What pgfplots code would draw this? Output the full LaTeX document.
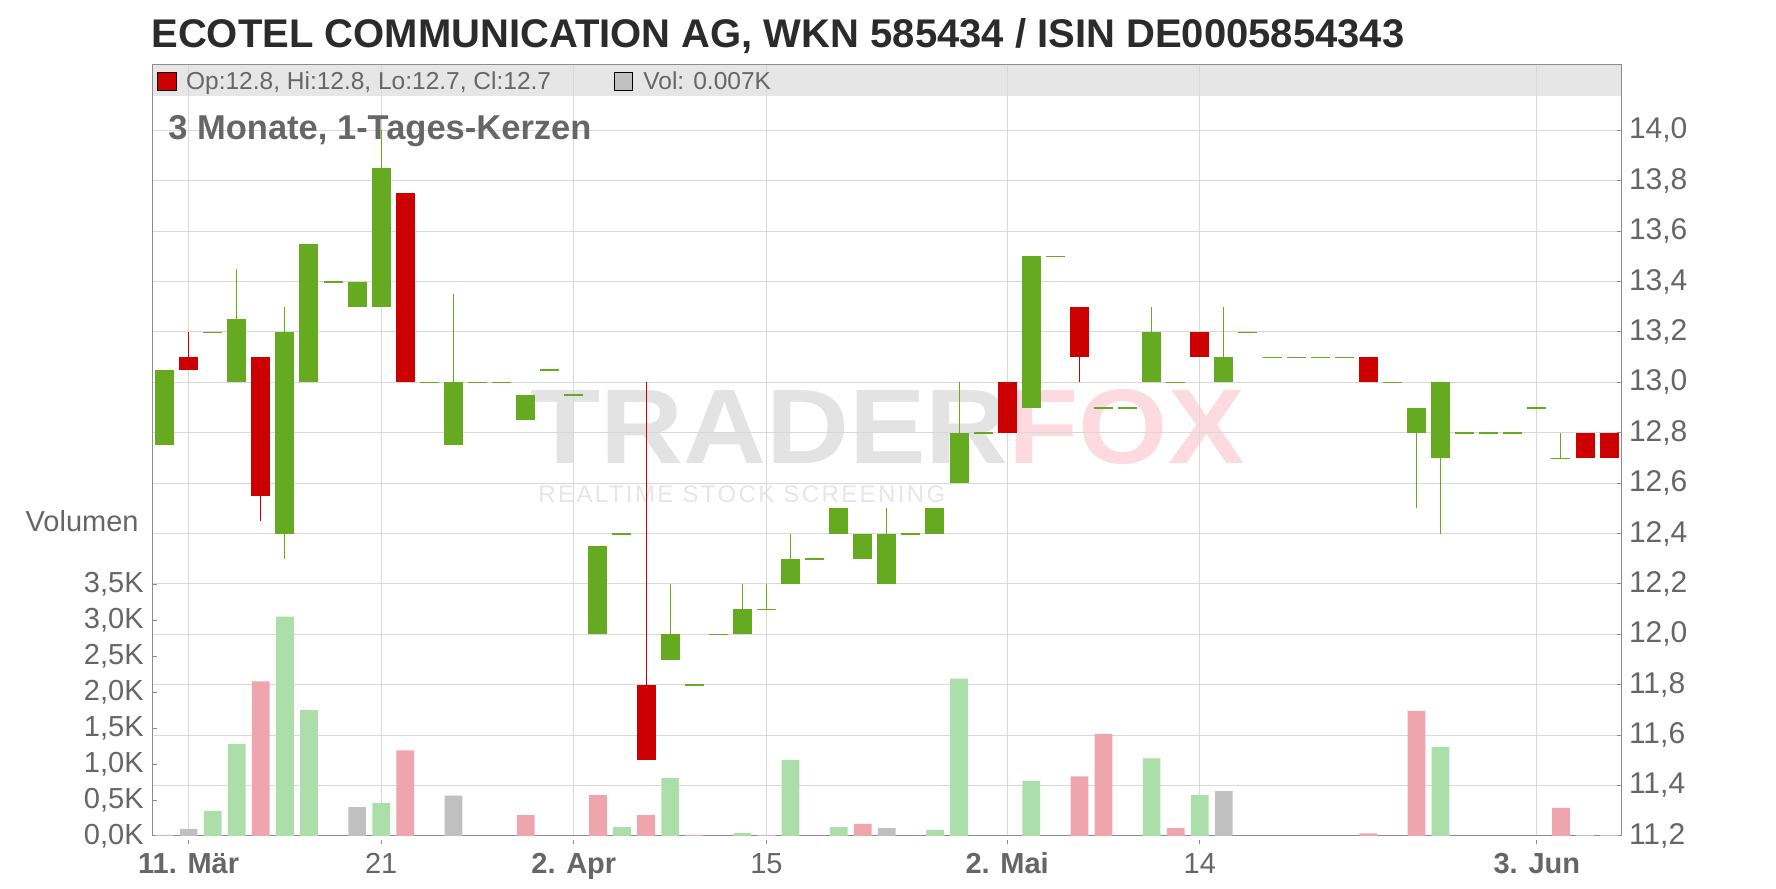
\documentclass[border=0pt]{standalone}
\usepackage{pgfplots}
\pgfplotsset{compat=1.18}
\usepackage{pgfplotstable}
\usepackage{graphicx}
\usepackage{fontspec}
\setmainfont{Liberation Sans}
\newfontfamily\wmfont[LetterSpace=10]{Liberation Sans}

\definecolor{cgreen}{HTML}{66AA22}
\definecolor{cred}{HTML}{CC0000}
\definecolor{vgreen}{HTML}{ACDEAA}
\definecolor{vred}{HTML}{EEA5AE}
\definecolor{vgray}{HTML}{C0C0C0}
\definecolor{gridgray}{HTML}{D9D9D9}
\definecolor{axisgray}{HTML}{8C8C8C}
\definecolor{labgray}{HTML}{666666}
\definecolor{titlegray}{HTML}{2B2B2B}
\definecolor{legbg}{HTML}{E6E6E6}
\definecolor{wmgray}{HTML}{E3E3E3}
\definecolor{wmpink}{HTML}{FDDAE0}
\definecolor{wmsub}{HTML}{E6E6E6}

\pgfplotsset{candle/.style={only marks, mark=*, mark size=0pt, mark options={draw=none, fill=none}, forget plot}}

% index open high low close  (close >= open)
\pgfplotstableread{
i o h l c
0 12.75 13.05 12.75 13.05
2 13.2 13.2 13.2 13.2
3 13.0 13.45 13.0 13.25
5 12.4 13.3 12.3 13.2
6 13.0 13.55 13.0 13.55
7 13.4 13.4 13.4 13.4
8 13.3 13.4 13.3 13.4
9 13.3 14.0 13.3 13.85
11 13.0 13.0 13.0 13.0
12 12.75 13.35 12.75 13.0
13 13.0 13.0 13.0 13.0
14 13.0 13.0 13.0 13.0
15 12.85 12.95 12.85 12.95
16 13.05 13.05 13.05 13.05
17 12.95 12.95 12.95 12.95
18 12.0 12.35 12.0 12.35
19 12.4 12.4 12.4 12.4
21 11.9 12.2 11.9 12.0
22 11.8 11.8 11.8 11.8
23 12.0 12.0 12.0 12.0
24 12.0 12.2 12.0 12.1
25 12.1 12.2 12.1 12.1
26 12.2 12.4 12.2 12.3
27 12.3 12.3 12.3 12.3
28 12.4 12.5 12.4 12.5
29 12.3 12.4 12.3 12.4
30 12.2 12.5 12.2 12.4
31 12.4 12.4 12.4 12.4
32 12.4 12.5 12.4 12.5
33 12.6 13.0 12.6 12.8
34 12.8 12.8 12.8 12.8
36 12.9 13.5 12.9 13.5
37 13.5 13.5 13.5 13.5
39 12.9 12.9 12.9 12.9
40 12.9 12.9 12.9 12.9
41 13.0 13.3 13.0 13.2
42 13.0 13.0 13.0 13.0
44 13.0 13.3 13.0 13.1
45 13.2 13.2 13.2 13.2
46 13.1 13.1 13.1 13.1
47 13.1 13.1 13.1 13.1
48 13.1 13.1 13.1 13.1
49 13.1 13.1 13.1 13.1
51 13.0 13.0 13.0 13.0
52 12.8 12.9 12.5 12.9
53 12.7 13.0 12.4 13.0
54 12.8 12.8 12.8 12.8
55 12.8 12.8 12.8 12.8
56 12.8 12.8 12.8 12.8
57 12.9 12.9 12.9 12.9
58 12.7 12.8 12.7 12.7
}\greencandles

% close < open
\pgfplotstableread{
i o h l c
1 13.1 13.2 13.05 13.05
4 13.1 13.1 12.45 12.55
10 13.75 13.75 13.0 13.0
20 11.8 13.0 11.5 11.5
35 13.0 13.0 12.8 12.8
38 13.3 13.3 13.0 13.1
43 13.2 13.2 13.1 13.1
50 13.1 13.1 13.0 13.0
59 12.8 12.8 12.7 12.7
60 12.8 12.8 12.7 12.7
}\redcandles

% volume in thousands
\pgfplotstableread{
i v
2 0.35
3 1.28
5 3.05
6 1.75
9 0.46
19 0.125
21 0.81
24 0.04
26 1.06
28 0.125
32 0.083
33 2.19
36 0.765
41 1.08
43 0.57
53 1.24
}\volgreen

\pgfplotstableread{
i v
4 2.15
10 1.19
15 0.29
18 0.57
20 0.29
22 0.014
29 0.167
38 0.83
39 1.42
42 0.11
50 0.037
52 1.74
58 0.39
}\volred

\pgfplotstableread{
i v
0 0.015
1 0.10
8 0.40
12 0.56
25 0.015
30 0.11
44 0.625
59 0.012
60 0.012
}\volgray

\begin{document}
\begin{tikzpicture}[x=1pt,y=1pt]
\useasboundingbox (0,0) rectangle (888,444);
% legend bar background
\fill[legbg] (76.25,396.15) rectangle (810.25,411.25);
% watermark
\node[anchor=base west, inner sep=0pt] at (265,212) {\scalebox{1.083}[1]{\fontsize{53}{53}\selectfont\bfseries\textcolor{wmgray}{TRADER}\textcolor{wmpink}{FOX}}};
\node[anchor=base west, inner sep=0pt] at (269,192.65) {\wmfont\fontsize{12}{12}\selectfont\textcolor{wmsub}{REALTIME STOCK SCREENING}};

\begin{axis}[
  at={(76.25pt,26pt)}, anchor=south west, scale only axis,
  width=734.3pt, height=385.5pt,
  xmin=-0.5, xmax=60.5, ymin=11.2, ymax=14.2595,
  axis line style={draw=axisgray, line width=0.5pt},
  xtick={1,9,17,25,35,43,57}, xticklabels=\empty,
  ytick={11.2,11.4,11.6,11.8,12.0,12.2,12.4,12.6,12.8,13.0,13.2,13.4,13.6,13.8,14.0},
  grid=major, major grid style={draw=gridgray, line width=0.5pt},
  ytick pos=right, yticklabel pos=right,
  tick align=inside, major tick length=2pt,
  xtick style={draw=none},
  ytick style={draw=axisgray, line width=0.5pt},
  yticklabel style={anchor=west, inner sep=0pt, xshift=3.75pt, font=\fontsize{15}{15}\selectfont, text=labgray},
  /pgf/number format/fixed, /pgf/number format/fixed zerofill,
  /pgf/number format/precision=1, /pgf/number format/use comma,
  /pgf/number format/assume math mode=true,
]
% wicks
\addplot[candle,
  error bars/.cd, y dir=plus, y explicit, error mark=none,
  error bar style={draw=cgreen, line width=0.5pt}]
  table[x=i, y=l, y error plus expr=\thisrow{h}-\thisrow{l}] {\greencandles};
\addplot[candle,
  error bars/.cd, y dir=plus, y explicit, error mark=none,
  error bar style={draw=cred, line width=0.5pt}]
  table[x=i, y=l, y error plus expr=\thisrow{h}-\thisrow{l}] {\redcandles};
% bodies
\addplot[candle,
  error bars/.cd, y dir=both, y explicit, error mark=none,
  error bar style={draw=cgreen, line width=9.5pt}]
  table[x=i, y expr=(\thisrow{o}+\thisrow{c})/2, y error expr={max(abs(\thisrow{c}-\thisrow{o})/2,0.002)}] {\greencandles};
\addplot[candle,
  error bars/.cd, y dir=both, y explicit, error mark=none,
  error bar style={draw=cred, line width=9.5pt}]
  table[x=i, y expr=(\thisrow{o}+\thisrow{c})/2, y error expr={max(abs(\thisrow{c}-\thisrow{o})/2,0.002)}] {\redcandles};
\end{axis}

\begin{axis}[
  at={(76.25pt,26pt)}, anchor=south west, scale only axis,
  width=734.3pt, height=385.5pt,
  xmin=-0.5, xmax=60.5, ymin=0, ymax=10.723,
  axis line style={draw=none},
  ytick={0,0.5,1,1.5,2,2.5,3,3.5}, ytick pos=left,
  yticklabel={\pgfmathprintnumber[fixed,fixed zerofill,precision=1,use comma,assume math mode=true]{\tick}K},
  yticklabel style={anchor=east, inner sep=0pt, xshift=-4.25pt, font=\fontsize{14.5}{14.5}\selectfont, text=labgray},
  tick align=inside, major tick length=2pt,
  ytick style={draw=axisgray, line width=0.5pt},
  xtick={1,9,17,25,35,43,57},
  xticklabels={\textbf{11. Mär},21,\textbf{2. Apr},15,\textbf{2. Mai},14,\textbf{3. Jun}},
  xtick pos=bottom,
  xtick style={draw=axisgray, line width=0.5pt, yshift=-2pt},
  xticklabel style={anchor=base, inner sep=0pt, yshift=-17pt, font=\fontsize{14.5}{14.5}\selectfont, text=labgray},
  ybar, bar width=8.85pt, bar shift=0pt,
]
\addplot[fill=vgreen, draw=none] table[x=i, y=v] {\volgreen};
\addplot[fill=vred, draw=none] table[x=i, y=v] {\volred};
\addplot[fill=vgray, draw=none] table[x=i, y=v] {\volgray};
\end{axis}

% title and texts
\node[anchor=base west, inner sep=0pt] at (75.5,420.15) {\fontsize{20}{20}\selectfont\bfseries\textcolor{titlegray}{ECOTEL COMMUNICATION AG, WKN 585434 / ISIN DE0005854343}};
\node[anchor=base west, inner sep=0pt] at (84,374) {\fontsize{17.25}{17.25}\selectfont\bfseries\textcolor{labgray}{3 Monate, 1-Tages-Kerzen}};
\node[anchor=base east, inner sep=0pt] at (69.5,178.15) {\fontsize{14.5}{14.5}\selectfont\textcolor{labgray}{Volumen}};
% legend
\filldraw[fill=cred, draw=black, line width=0.5pt] (78.65,398.65) rectangle (88,407.85);
\node[anchor=base west, inner sep=0pt] at (92.85,399.35) {\fontsize{12.25}{12.25}\selectfont\textcolor{labgray}{Op:12.8, Hi:12.8, Lo:12.7, Cl:12.7}};
\filldraw[fill=vgray, draw=black, line width=0.5pt] (307.3,398.65) rectangle (316.25,407.85);
\node[anchor=base west, inner sep=0pt] at (321.5,399.35) {\fontsize{12.25}{12.25}\selectfont\textcolor{labgray}{Vol: 0.007K}};
\end{tikzpicture}
\end{document}
